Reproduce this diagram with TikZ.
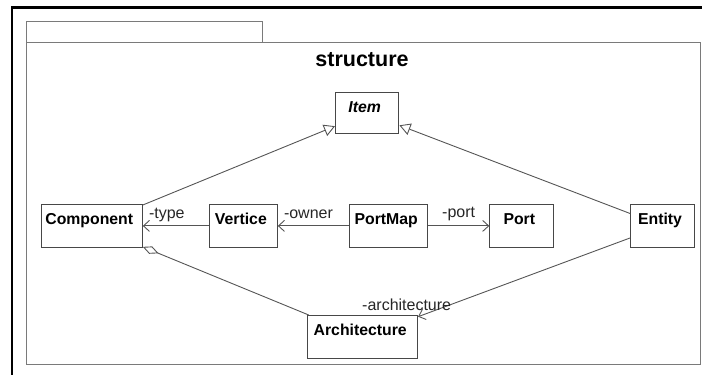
\documentclass[tikz,border=0pt]{standalone}
\usepackage{fontspec}
\setmainfont{Liberation Sans}
\usetikzlibrary{arrows.meta,calc}

\definecolor{edge}{HTML}{555555}
\definecolor{boxline}{HTML}{474747}
\definecolor{pkgline}{HTML}{7A7A7A}

\tikzset{
  cls/.style={draw=boxline, line width=1.1pt, fill=white, rectangle,
    inner xsep=0pt, inner ysep=0pt, text height=20pt,
    font=\fontsize{15.8}{18}\selectfont\bfseries, anchor=north west},
  role/.style={font=\fontsize{16}{18}\selectfont, text=black!85, inner sep=0pt},
  conn/.style={draw=edge, line width=0.9pt},
  nav/.style={conn, -{Straight Barb[length=6pt,width=11pt]}},
  gen/.style={conn, -{Triangle[open,length=11pt,width=12pt,fill=white]}},
  agg/.style={conn, {Diamond[open,length=17pt,width=8pt,fill=white]}-},
}
% class name, nudged slightly left of the box centre
\newcommand{\clsname}[1]{#1\kern5pt}

\begin{document}
\begin{tikzpicture}[x=1pt,y=-1pt]
  \useasboundingbox (0,0) rectangle (702,375);

  % outer frame: top and left edges
  \draw[line width=2.6pt, line cap=rect] (12,375) -- (12,7.3) -- (702,7.3);

  % package with tab
  \draw[pkgline, line width=1pt] (26.7,42.3) -- (26.7,21.7) -- (262.7,21.7) -- (262.7,42.3);
  \draw[pkgline, line width=1.2pt] (26.7,42.3) rectangle (700.5,364.3);
  \node[font=\fontsize{21.5}{24}\selectfont\bfseries, anchor=base, inner sep=0pt]
    (title) at (362,66) {structure};

  % classes
  \node[cls, minimum width=63.3pt, text depth=21.6pt] (item) at (335,91.7)
    {\clsname{\itshape Item}};
  \node[cls, minimum width=101pt, text depth=22.7pt] (comp) at (40.7,204) {\clsname{Component}};
  \node[cls, minimum width=67.7pt, text depth=22.7pt] (vert) at (209,204) {\clsname{Vertice}};
  \node[cls, minimum width=77.7pt, text depth=22.7pt] (pmap) at (349.3,204) {\clsname{PortMap}};
  \node[cls, minimum width=64pt, text depth=22.7pt] (port) at (489.3,204) {\clsname{Port}};
  \node[cls, minimum width=63.4pt, text depth=22.7pt] (ent) at (630.3,204) {\clsname{Entity}};
  \node[cls, minimum width=109.7pt, text depth=23.3pt] (arch) at (307.3,315) {\clsname{Architecture}};

  % generalizations
  \draw[gen] (comp) -- (item);
  \draw[gen] (ent) -- (item);

  % navigable associations
  \draw[nav] (vert) -- (comp);
  \draw[nav] (pmap) -- (vert);
  \draw[nav] (pmap) -- (port);
  \draw[nav] (ent) -- (arch);

  % aggregation
  \draw[agg] (comp) -- (arch);

  % role names
  \node[role, anchor=base west] (rtype) at ($(comp.east)+(6,-7.6)$) {-type};
  \node[role, anchor=base west] (rowner) at ($(vert.east)+(6,-7.6)$) {-owner};
  \node[role, anchor=base east] (rport) at ($(port.west)+(-14,-8.6)$) {-port};
  \node[role, anchor=base west] (rarch) at ($(arch.north west)+(54.7,-5)$) {-architecture};
\end{tikzpicture}
\end{document}
